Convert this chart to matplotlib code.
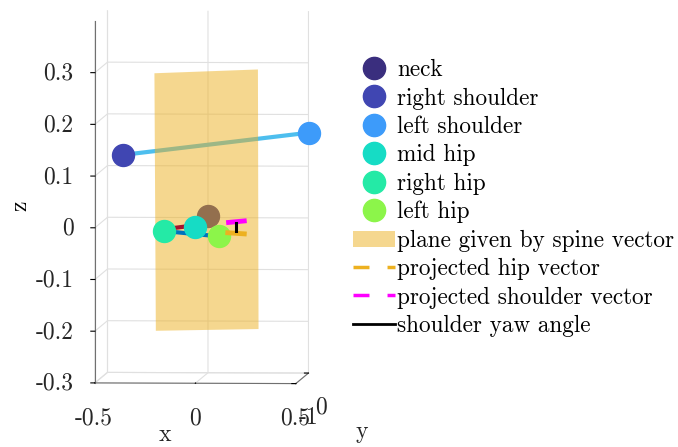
import matplotlib
matplotlib.use("Agg")
import matplotlib.pyplot as plt
from matplotlib.lines import Line2D
from matplotlib.patches import Patch
from mpl_toolkits.mplot3d.art3d import Poly3DCollection

plt.rcParams['font.family'] = 'serif'
plt.rcParams['font.serif'] = ['cmr10']
plt.rcParams['axes.unicode_minus'] = False
plt.rcParams['mathtext.fontset'] = 'cm'

# joints (x, y, z)
joint_names = ['neck', 'right shoulder', 'left shoulder', 'mid hip', 'right hip', 'left hip']
joint_x = [0.032, -0.39, 0.505, -0.032, -0.187, 0.085]
joint_y = [-0.5, -0.5, 0.0, -0.5, -0.5, -0.5]
joint_z = [0.0125, 0.131, 0.165, -0.009, -0.016, -0.026]
joint_colors = ['#3a2e7e', '#4046b2', '#3d9bfa', '#16dcc5', '#24eaa6', '#8cf54a']

# plane given by spine vector (corners)
plane_x = [-0.235, 0.28, 0.283, -0.228]
plane_y = [-0.5, -0.5, -0.5, -0.5]
plane_z = [0.289, 0.297, -0.205, -0.209]

# other segments
hip_red_x = [-0.175, 0.0]
hip_red_z = [-0.012, -0.003]
proj_hip_x = [0.13, 0.212]
proj_hip_z = [-0.019, -0.021]
proj_sh_x = [0.134, 0.212]
proj_sh_z = [0.001, 0.004]
yaw_x = [0.172, 0.172]
yaw_z = [-0.001, -0.016]

fig = plt.figure(figsize=(6.78, 4.47), dpi=100)
ax = fig.add_axes([0.015, 0.048, 0.55, 1.0], projection='3d', computed_zorder=False)
ax.set_proj_type('ortho')
ax.set_box_aspect((1, 1, 1.80), zoom=1.2)
ax.view_init(elev=3, azim=-86.4)
ax.zaxis._axinfo['juggled'] = (1, 2, 0)

for a in (ax.xaxis, ax.yaxis, ax.zaxis):
    a.set_pane_color((1, 1, 1, 0))
    a.pane.set_edgecolor('#d9d9d9')
    a._axinfo['grid']['color'] = '#e0e0e0'
    a._axinfo['grid']['linewidth'] = 0.8
    a._axinfo['tick']['inward_factor'] = 0.0
    a._axinfo['tick']['outward_factor'] = 0.25
    a._axinfo['tick']['color'] = '#707070'
    a.line.set_color('#707070')

# shoulder line and neck (behind plane)
ax.plot([joint_x[1], joint_x[2]], [joint_y[1], joint_y[2]], [joint_z[1], joint_z[2]],
        color='#4DBEEE', lw=3, zorder=1)
ax.scatter(joint_x[0], joint_y[0], joint_z[0], s=250, color=joint_colors[0],
           depthshade=False, zorder=1)

plane = Poly3DCollection([list(zip(plane_x, plane_y, plane_z))],
                         facecolor='#EDB120', alpha=0.5, edgecolor='none', zorder=2)
ax.add_collection3d(plane)

ax.plot(hip_red_x, [-0.5, -0.5], hip_red_z, color='#A2142F', lw=3, zorder=3)
ax.plot([joint_x[4], joint_x[5]], [-0.5, -0.5], [joint_z[4], joint_z[5]],
        color='#0072BD', lw=3, zorder=3)

for i in [3, 4, 5, 1, 2]:
    ax.scatter(joint_x[i], joint_y[i], joint_z[i], s=250, color=joint_colors[i],
               depthshade=False, zorder=4)

ax.plot(proj_hip_x, [-0.5, -0.5], proj_hip_z, color='#EDB120', lw=3.5, zorder=5)
ax.plot(proj_sh_x, [-0.5, -0.5], proj_sh_z, color='#FF00FF', lw=3.5, zorder=5)
ax.plot(yaw_x, [-0.5, -0.5], yaw_z, color='black', lw=2.2, zorder=6)

ax.set_xlim(-0.5, 0.5)
ax.set_ylim(-1, 0)
ax.set_zlim(-0.3, 0.4)
ax.set_xticks([-0.5, 0, 0.5])
ax.set_yticks([-1, 0])
ax.set_zticks([-0.3, -0.2, -0.1, 0, 0.1, 0.2, 0.3])
ax.set_xticklabels(['-0.5', '0', '0.5'])
ax.set_yticklabels(['-1', '0'])
ax.set_zticklabels(['-0.3', '-0.2', '-0.1', '0', '0.1', '0.2', '0.3'])
ax.tick_params(labelsize=17, labelcolor='#262626')
ax.tick_params(axis='x', pad=1)
ax.tick_params(axis='y', pad=1)
ax.tick_params(axis='z', pad=6)
for t in ax.get_zticklabels():
    t.set_horizontalalignment('right')
    t.set_verticalalignment('center')
ax.zaxis.set_rotate_label(False)
ax.set_zlabel('z', fontsize=17, rotation=90, labelpad=28)

# x and y labels sit where MATLAB put them
fig.text(165 / 678, 1 - 435 / 447, 'x', fontsize=17, ha='center', va='center', color='#262626')
fig.text(362 / 678, 1 - 432 / 447, 'y', fontsize=17, ha='center', va='center', color='#262626')

handles = [Line2D([], [], marker='o', ls='none', ms=16, color=c) for c in joint_colors]
handles.append(Patch(facecolor='#EDB120', alpha=0.5, edgecolor='none'))
handles.append(Line2D([], [], color='#EDB120', lw=2.5, ls=(0, (4.6, 5.2))))
handles.append(Line2D([], [], color='#FF00FF', lw=2.5, ls=(0, (4.6, 5.2))))
handles.append(Line2D([], [], color='black', lw=2))
labels = joint_names + ['plane given by spine vector', 'projected hip vector',
                        'projected shoulder vector', 'shoulder yaw angle']
fig.legend(handles, labels, loc='upper left', bbox_to_anchor=(0.521, 0.868),
           frameon=False, fontsize=16.7, handlelength=1.8, handletextpad=0.1,
           labelspacing=0.27, borderaxespad=0, borderpad=0)

fig.savefig('out.png', dpi=100)
